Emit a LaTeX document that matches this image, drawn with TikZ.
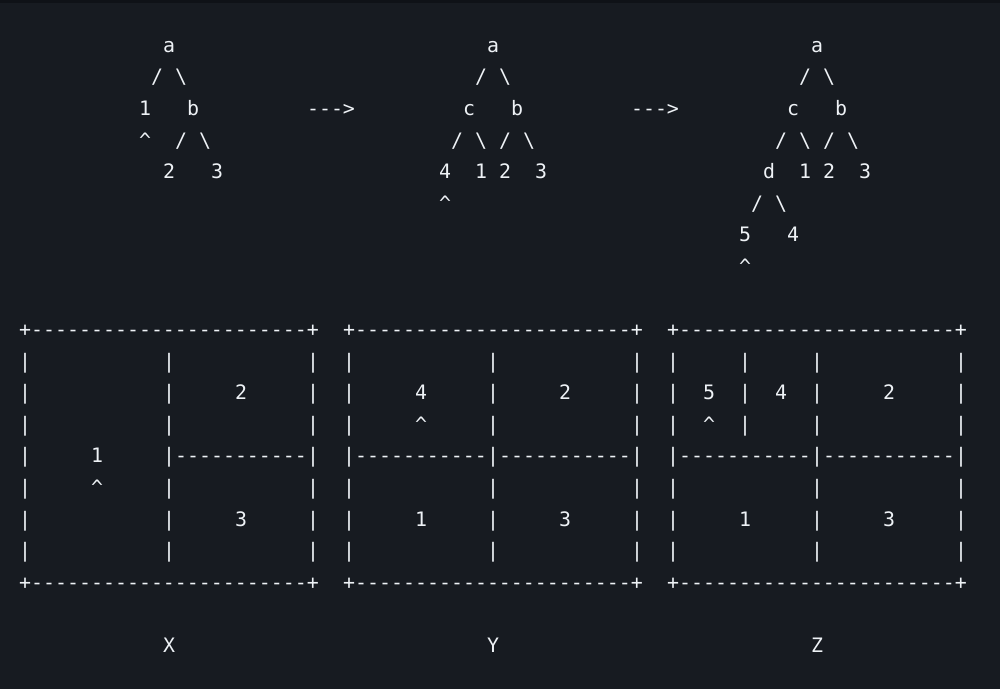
\documentclass[tikz,border=0pt]{standalone}
\usepackage{fontspec}
\setmonofont{DejaVu Sans Mono}
\usepackage{tikz}
\definecolor{bg}{HTML}{171B21}
\definecolor{topbar}{HTML}{0F1217}
\definecolor{fg}{HTML}{EEF2F6}
\tikzset{ch/.style={font=\ttfamily\fontsize{9.95}{12}\selectfont,text=fg,inner sep=0pt,text height=7.3pt,text depth=0pt}}
\newcommand\bs{\textbackslash}
\newcommand\up{\textasciicircum}
\begin{document}
\begin{tikzpicture}[x=6pt,y=-15.79pt]
\fill[bg] (-2.0833,-1.425) rectangle (81.25,20.393);
\fill[topbar] (-2.0833,-1.425) rectangle (81.25,-1.33);
\useasboundingbox (-2.0833,-1.425) rectangle (81.25,20.393);
% tree X
\node[ch] (a1) at (12,0) {a};
\node[ch] (a1l) at (11,1) {/}; \node[ch] (a1r) at (13,1) {\bs};
\node[ch] (one1) at (10,2) {1}; \node[ch] (b1) at (14,2) {b};
\node[ch] (hat1) at (10,3) {\up};
\node[ch] (b1l) at (13,3) {/}; \node[ch] (b1r) at (15,3) {\bs};
\node[ch] (two1) at (12,4) {2}; \node[ch] (three1) at (16,4) {3};
\node[ch] (go1) at (25.5,2) {-{}-{}->};
% tree Y
\node[ch] (a2) at (39,0) {a};
\node[ch] (a2l) at (38,1) {/}; \node[ch] (a2r) at (40,1) {\bs};
\node[ch] (c2) at (37,2) {c}; \node[ch] (b2) at (41,2) {b};
\node[ch] (c2l) at (36,3) {/}; \node[ch] (c2r) at (38,3) {\bs};
\node[ch] (b2l) at (40,3) {/}; \node[ch] (b2r) at (42,3) {\bs};
\node[ch] (four2) at (35,4) {4}; \node[ch] (one2) at (38,4) {1};
\node[ch] (two2) at (40,4) {2}; \node[ch] (three2) at (43,4) {3};
\node[ch] (hat2) at (35,5) {\up};
\node[ch] (go2) at (52.5,2) {-{}-{}->};
% tree Z
\node[ch] (a3) at (66,0) {a};
\node[ch] (a3l) at (65,1) {/}; \node[ch] (a3r) at (67,1) {\bs};
\node[ch] (c3) at (64,2) {c}; \node[ch] (b3) at (68,2) {b};
\node[ch] (c3l) at (63,3) {/}; \node[ch] (c3r) at (65,3) {\bs};
\node[ch] (b3l) at (67,3) {/}; \node[ch] (b3r) at (69,3) {\bs};
\node[ch] (d3) at (62,4) {d}; \node[ch] (one3) at (65,4) {1};
\node[ch] (two3) at (67,4) {2}; \node[ch] (three3) at (70,4) {3};
\node[ch] (d3l) at (61,5) {/}; \node[ch] (d3r) at (63,5) {\bs};
\node[ch] (five3) at (60,6) {5}; \node[ch] (four3) at (64,6) {4};
\node[ch] (hat3) at (60,7) {\up};
% frames
\foreach \s/\n in {0/X,27/Y,54/Z} {
  \node[ch] (top\n) at (\s+12,9) {+-{}-{}-{}-{}-{}-{}-{}-{}-{}-{}-{}-{}-{}-{}-{}-{}-{}-{}-{}-{}-{}-{}-+};
  \node[ch] (bot\n) at (\s+12,17) {+-{}-{}-{}-{}-{}-{}-{}-{}-{}-{}-{}-{}-{}-{}-{}-{}-{}-{}-{}-{}-{}-{}-+};
  \foreach \r in {10,...,16} {
    \node[ch] (l\n\r) at (\s,\r) {|};
    \node[ch] (r\n\r) at (\s+24,\r) {|};
  }
  \node[ch] (name\n) at (\s+12,19) {\n};
}
\foreach \r in {10,...,16} {
  \node[ch] (mX\r) at (12,\r) {|};
  \node[ch] (mY\r) at (39,\r) {|};
  \node[ch] (mZ\r) at (66,\r) {|};
}
\foreach \r in {10,11,12} \node[ch] (qZ\r) at (60,\r) {|};
\foreach \c/\n in {18/a,33/b,45/c,60/d,72/e}
  \node[ch] (cut\n) at (\c,13) {-{}-{}-{}-{}-{}-{}-{}-{}-{}-{}-};
% cells
\node[ch] (x2) at (18,11) {2}; \node[ch] (x1) at (6,13) {1};
\node[ch] (xh) at (6,14) {\up}; \node[ch] (x3) at (18,15) {3};
\node[ch] (y4) at (33,11) {4}; \node[ch] (yh) at (33,12) {\up};
\node[ch] (y2) at (45,11) {2}; \node[ch] (y1) at (33,15) {1};
\node[ch] (y3) at (45,15) {3};
\node[ch] (z5) at (57,11) {5}; \node[ch] (zh) at (57,12) {\up};
\node[ch] (z4) at (63,11) {4}; \node[ch] (z2) at (72,11) {2};
\node[ch] (z1) at (60,15) {1}; \node[ch] (z3) at (72,15) {3};
\end{tikzpicture}
\end{document}
